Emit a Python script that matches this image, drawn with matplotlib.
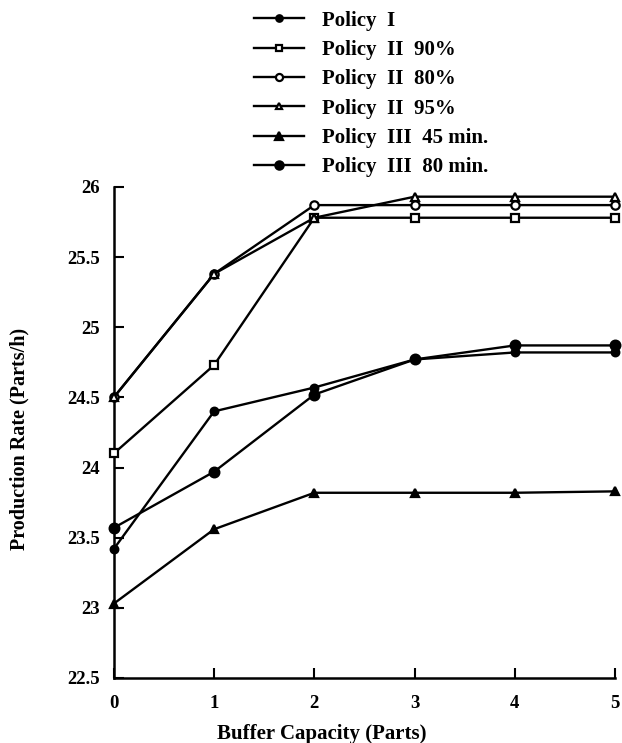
import matplotlib
matplotlib.use('Agg')
from matplotlib import pyplot as plt

plt.rcParams['font.family'] = ['Liberation Serif', 'DejaVu Serif']
plt.rcParams['font.weight'] = 'bold'

buffer_capacity = [0, 1, 2, 3, 4, 5]

policy_1 = [23.42, 24.40, 24.57, 24.77, 24.82, 24.82]
policy_2_90 = [24.10, 24.73, 25.78, 25.78, 25.78, 25.78]
policy_2_80 = [24.50, 25.38, 25.87, 25.87, 25.87, 25.87]
policy_2_95 = [24.50, 25.38, 25.78, 25.93, 25.93, 25.93]
policy_3_45 = [23.03, 23.56, 23.82, 23.82, 23.82, 23.83]
policy_3_80 = [23.57, 23.97, 24.52, 24.77, 24.87, 24.87]

labels = ['Policy  I', 'Policy  II  90%', 'Policy  II  80%', 'Policy  II  95%',
          'Policy  III  45 min.', 'Policy  III  80 min.']

x_ticks = [0, 1, 2, 3, 4, 5]
y_ticks = [22.5, 23, 23.5, 24, 24.5, 25, 25.5, 26]
y_tick_labels = ['22.5', '23', '23.5', '24', '24.5', '25', '25.5', '26']


def draw_series(ax):
    series = [
        (policy_1, 'o', 'k', 5.5),
        (policy_2_90, 's', 'white', 5.5),
        (policy_2_80, 'o', 'white', 6),
        (policy_2_95, '^', 'white', 5.5),
        (policy_3_45, '^', 'k', 6),
        (policy_3_80, 'o', 'k', 7),
    ]
    handles = []
    for (values, marker, face, size), label in zip(series, labels):
        line, = ax.plot(buffer_capacity, values, color='k', lw=1.7, marker=marker,
                        markerfacecolor=face, markeredgecolor='k', markeredgewidth=1.6,
                        markersize=size, label=label, clip_on=False, zorder=3)
        handles.append(line)
    return handles


fig = plt.figure(figsize=(6.22, 7.43), dpi=100)
ax = fig.add_axes([0.183, 0.0875, 0.806, 0.661])

handles = draw_series(ax)

ax.set_xlim(0, 5)
ax.set_ylim(22.5, 26)
ax.set_xticks(x_ticks)
ax.set_yticks(y_ticks)
ax.set_yticklabels(y_tick_labels)
ax.spines['top'].set_visible(False)
ax.spines['right'].set_visible(False)
ax.spines['left'].set_linewidth(1.8)
ax.spines['bottom'].set_linewidth(1.8)
ax.tick_params(direction='in', length=7, width=1.5, labelsize=13.5, pad=12)
ax.tick_params(axis='y', pad=10)
for item in ax.get_xticklabels() + ax.get_yticklabels():
    item.set_fontweight('bold')

ax.set_xlabel('Buffer Capacity (Parts)', fontsize=15, fontweight='bold')
ax.set_ylabel('Production Rate (Parts/h)', fontsize=14.5, fontweight='bold')
ax.xaxis.set_label_coords(0.415, -0.094)
ax.yaxis.set_label_coords(-0.168, 0.487)

fig.legend(handles=handles, loc='upper left', bbox_to_anchor=(0.378, 1.011),
           frameon=False, handlelength=2.4, handletextpad=0.87, labelspacing=0.45,
           numpoints=1, markerscale=0.85, prop={'size': 15, 'weight': 'bold'})

plt.savefig('out.png', dpi=100)
